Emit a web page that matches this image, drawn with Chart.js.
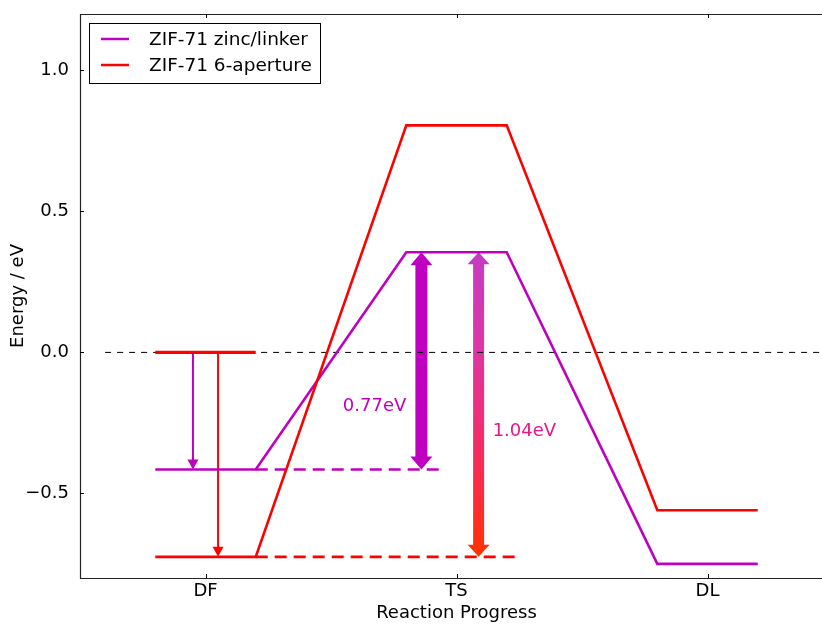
<!DOCTYPE html>
<html>
<head>
<meta charset="utf-8">
<script src="https://cdn.jsdelivr.net/npm/chart.js@4/dist/chart.umd.min.js"></script>
<style>
  html, body { margin: 0; padding: 0; background: #fff; overflow: hidden; }
  #wrap { position: absolute; left: 0; top: 0; width: 822px; height: 626px; }
</style>
</head>
<body>
<div id="wrap"><canvas id="c" width="822" height="626"></canvas></div>
<script>
// Reaction stages along the x axis
const stages = ['DF', 'TS', 'DL'];
// Energy levels (eV) at each stage
const zincLinker = [-0.415, 0.355, -0.75];
const sixAperture = [-0.725, 0.805, -0.56];
const gasLevel = 0.0;
// Y tick values
const yTicks = [-0.5, 0.0, 0.5, 1.0];
// Series names, axis titles and barrier annotations
const seriesNames = ['ZIF-71 zinc/linker', 'ZIF-71 6-aperture'];
const xTitle = 'Reaction Progress';
const yTitle = 'Energy / eV';
const barrierLabels = ['0.77eV', '1.04eV'];

const PURPLE = '#bf00bf';
const RED = '#ff0000';
const FONT = 'DejaVu Sans';
const HALF = 0.2;          // half width of a level plateau, in stage units
const X_MIN = 0.5, X_FULL_MAX = 3.5;  // full axis range; the view ends a little before X_FULL_MAX
const X_VIEW_MAX = 3.456;

function profile(levels) {
  const pts = [];
  levels.forEach((v, i) => {
    pts.push({ x: i + 1 - HALF, y: v }, { x: i + 1 + HALF, y: v });
  });
  return pts;
}

// vertical block arrow with heads at both ends
function blockArrow(ctx, x, yTop, yBot, shaftW, headW, headL, fill) {
  ctx.beginPath();
  ctx.moveTo(x, yTop);
  ctx.lineTo(x + headW / 2, yTop + headL);
  ctx.lineTo(x + shaftW / 2, yTop + headL);
  ctx.lineTo(x + shaftW / 2, yBot - headL);
  ctx.lineTo(x + headW / 2, yBot - headL);
  ctx.lineTo(x, yBot);
  ctx.lineTo(x - headW / 2, yBot - headL);
  ctx.lineTo(x - shaftW / 2, yBot - headL);
  ctx.lineTo(x - shaftW / 2, yTop + headL);
  ctx.lineTo(x - headW / 2, yTop + headL);
  ctx.closePath();
  ctx.fillStyle = fill;
  ctx.fill();
}

// thin downward arrow
function thinArrow(ctx, x, yFrom, yTip, color) {
  const headL = 10, headW = 11;
  ctx.strokeStyle = color;
  ctx.lineWidth = 2;
  ctx.beginPath();
  ctx.moveTo(x, yFrom);
  ctx.lineTo(x, yTip - headL + 1);
  ctx.stroke();
  ctx.beginPath();
  ctx.moveTo(x, yTip);
  ctx.lineTo(x - headW / 2, yTip - headL);
  ctx.lineTo(x + headW / 2, yTip - headL);
  ctx.closePath();
  ctx.fillStyle = color;
  ctx.fill();
}

const arrowsPlugin = {
  id: 'arrows',
  beforeDatasetsDraw(chart) {
    const { ctx, scales: { x, y } } = chart;
    ctx.save();
    // adsorption arrows from the gas-phase level
    thinArrow(ctx, x.getPixelForValue(0.95), y.getPixelForValue(gasLevel), y.getPixelForValue(zincLinker[0]), PURPLE);
    thinArrow(ctx, x.getPixelForValue(1.05), y.getPixelForValue(gasLevel), y.getPixelForValue(sixAperture[0]), RED);
    // barrier arrows
    const yTs = y.getPixelForValue(zincLinker[1]);
    blockArrow(ctx, x.getPixelForValue(1.86), yTs, y.getPixelForValue(zincLinker[0]), 12, 22, 13, '#c000c0');
    const yB = y.getPixelForValue(sixAperture[0]);
    const g = ctx.createLinearGradient(0, yTs, 0, yB);
    g.addColorStop(0, '#c43cc4');
    g.addColorStop(0.3, '#dc36a6');
    g.addColorStop(0.55, '#ee2e78');
    g.addColorStop(0.8, '#fb2c3c');
    g.addColorStop(1, '#ff3200');
    blockArrow(ctx, x.getPixelForValue(2.088), yTs, yB, 11, 22, 12, g);
    ctx.restore();
  },
  afterDatasetsDraw(chart) {
    const { ctx, scales: { x, y } } = chart;
    ctx.save();
    ctx.font = `18px "${FONT}"`;
    ctx.textBaseline = 'middle';
    ctx.textAlign = 'left';
    ctx.fillStyle = PURPLE;
    ctx.fillText(barrierLabels[0], x.getPixelForValue(1.547), y.getPixelForValue(-0.19));
    ctx.fillStyle = '#e6168c';
    ctx.fillText(barrierLabels[1], x.getPixelForValue(2.144), y.getPixelForValue(-0.28));
    ctx.restore();
  }
};

const framePlugin = {
  id: 'frame',
  afterDraw(chart) {
    const { ctx, chartArea: a, scales: { x, y } } = chart;
    const L = Math.round(a.left) + 0.5, T = Math.round(a.top) + 0.5, B = Math.round(a.bottom) + 0.5;
    ctx.save();
    ctx.strokeStyle = '#222';
    ctx.lineWidth = 1.2;
    ctx.beginPath();
    ctx.moveTo(a.right + 2, T); ctx.lineTo(L, T); ctx.lineTo(L, B); ctx.lineTo(a.right + 2, B);
    ctx.stroke();
    ctx.lineWidth = 1;
    ctx.strokeStyle = '#000';
    ctx.beginPath();
    yTicks.forEach(v => {
      const py = Math.round(y.getPixelForValue(v)) + 0.5;
      ctx.moveTo(a.left, py); ctx.lineTo(a.left + 4, py);
    });
    stages.forEach((_, i) => {
      const px = Math.round(x.getPixelForValue(i + 1)) + 0.5;
      ctx.moveTo(px, a.bottom); ctx.lineTo(px, a.bottom - 4);
      ctx.moveTo(px, a.top); ctx.lineTo(px, a.top + 4);
    });
    ctx.stroke();

    // x axis title, centred on the full axis range
    ctx.font = `18px "${FONT}"`;
    ctx.fillStyle = '#000';
    ctx.textAlign = 'center';
    ctx.textBaseline = 'middle';
    ctx.fillText(xTitle, x.getPixelForValue((X_MIN + X_FULL_MAX) / 2), a.bottom + 35);

    // legend box
    const lx = a.left + 9, ly = a.top + 9;
    ctx.fillStyle = '#fff';
    ctx.fillRect(lx, ly, 231, 60);
    ctx.strokeStyle = '#000';
    ctx.lineWidth = 1;
    ctx.strokeRect(Math.round(lx) + 0.5, Math.round(ly) + 0.5, 231, 60);
    const colors = [PURPLE, RED];
    ctx.font = `18.5px "${FONT}"`;
    ctx.textAlign = 'left';
    seriesNames.forEach((name, i) => {
      const ry = ly + 16 + i * 26;
      ctx.strokeStyle = colors[i];
      ctx.lineWidth = 2.5;
      ctx.beginPath();
      ctx.moveTo(lx + 12, ry); ctx.lineTo(lx + 40, ry);
      ctx.stroke();
      ctx.fillStyle = '#000';
      ctx.fillText(name, lx + 60, ry + 1);
    });
    ctx.restore();
  }
};

const line = (data, color, width, dash) => ({
  data, borderColor: color, backgroundColor: color, borderWidth: width,
  borderDash: dash || [], pointRadius: 0, showLine: true, fill: false, tension: 0
});

new Chart(document.getElementById('c'), {
  type: 'scatter',
  data: {
    datasets: [
      line(profile(sixAperture), RED, 2.6),
      line(profile(zincLinker), PURPLE, 2.6),
      line([{ x: 1 - HALF, y: gasLevel }, { x: 1 + HALF, y: gasLevel }], RED, 3.2),
      line([{ x: 1 + HALF, y: zincLinker[0] }, { x: 1.95, y: zincLinker[0] }], PURPLE, 2.6, [12, 7]),
      line([{ x: 1 + HALF, y: sixAperture[0] }, { x: 2.26, y: sixAperture[0] }], RED, 2.6, [12, 7]),
      line([{ x: 0.6, y: gasLevel }, { x: X_FULL_MAX, y: gasLevel }], '#000', 1, [6, 6])
    ]
  },
  options: {
    responsive: false,
    animation: false,
    devicePixelRatio: 1,
    layout: { padding: { left: 0, top: 14, right: 0, bottom: 0 } },
    plugins: { legend: { display: false }, tooltip: { enabled: false } },
    scales: {
      x: {
        type: 'linear', min: X_MIN, max: X_VIEW_MAX,
        afterBuildTicks: s => { s.ticks = stages.map((_, i) => ({ value: i + 1 })); },
        ticks: {
          autoSkip: false, maxRotation: 0, padding: -5, color: '#000',
          font: { family: FONT, size: 18 },
          callback: v => stages[Math.round(v) - 1] || ''
        },
        grid: { display: false }, border: { display: false },
        afterFit: s => { s.height = 48; }
      },
      y: {
        min: -0.8, max: 1.2,
        afterBuildTicks: s => { s.ticks = yTicks.map(v => ({ value: v })); },
        ticks: {
          padding: 3, color: '#000', font: { family: FONT, size: 18 },
          callback: v => (v < 0 ? '\u2212' : '') + Math.abs(v).toFixed(1)
        },
        grid: { display: false }, border: { display: false },
        title: { display: true, text: yTitle, color: '#000', font: { family: FONT, size: 18 }, padding: { top: 8, bottom: 0 } },
        afterFit: s => { s.width = 80; }
      }
    }
  },
  plugins: [arrowsPlugin, framePlugin]
});
</script>
</body>
</html>
